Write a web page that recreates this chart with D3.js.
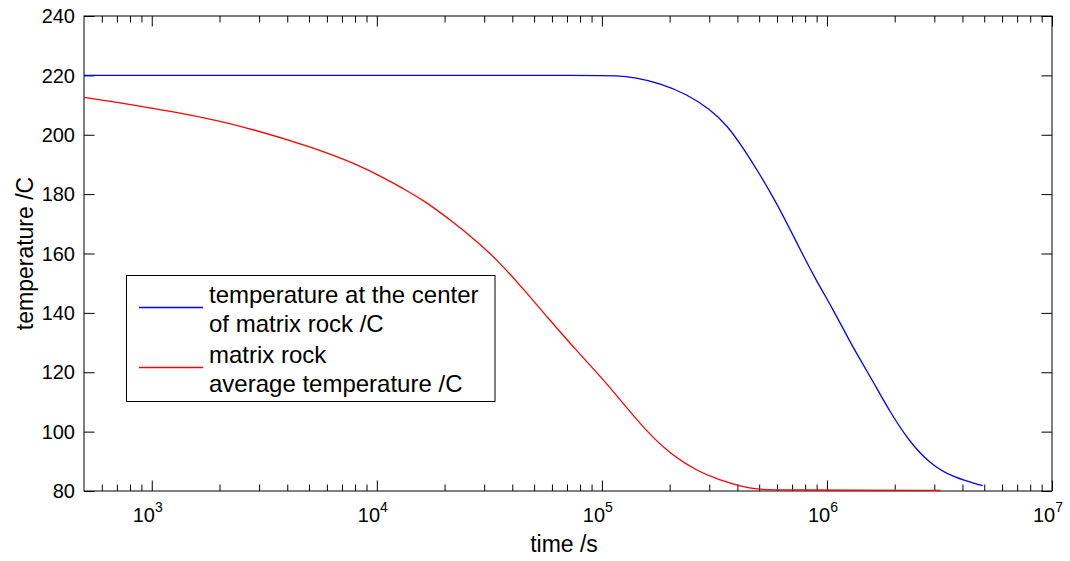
<!DOCTYPE html>
<html>
<head>
<meta charset="utf-8">
<script src="https://cdn.jsdelivr.net/npm/d3@7"></script>
<style>
  html, body { margin: 0; padding: 0; background: #fff; }
  svg { display: block; font-family: "Liberation Sans", Arial, sans-serif; }
</style>
</head>
<body>
<svg id="chart" width="1070" height="561"></svg>
<script>
// ---- data ----
const centerTime = [500, 1e3, 1e4, 1e5, 1.15e5, 1.38e5, 1.82e5, 2.39e5, 3.03e5, 3.6e5, 4.27e5, 5.04e5, 5.97e5, 6.84e5, 7.84e5, 8.98e5, 1.064e6, 1.24e6, 1.35e6, 1.6e6, 1.9e6, 2.33e6, 2.86e6, 3.62e6, 4.92e6];
const centerTemp = [220, 220, 220, 220, 219.9, 219.4, 217.3, 213.6, 208.6, 203.2, 195.3, 186.6, 177.0, 168.3, 159.3, 150.8, 141.2, 131.6, 126.5, 117.0, 106.8, 96.5, 89.3, 84.6, 81.8];

const avgTime = [500, 1350, 2670, 5260, 8190, 11120, 12770, 16200, 22000, 27900, 34200, 44900, 57000, 74800, 99300, 113300, 158700, 201000, 263000, 333000, 423000, 485000, 600000, 3.2e6];
const avgTemp = [212.6, 207.5, 202.5, 195.6, 190.0, 184.9, 182.3, 177.9, 170.4, 164.0, 157.9, 148.0, 138.7, 128.4, 118.3, 113.2, 99.8, 92.6, 86.8, 83.7, 81.4, 80.6, 80.3, 80.2];

const xMajorExp = [3, 4, 5, 6, 7];
const yTicks = [80, 100, 120, 140, 160, 180, 200, 220, 240];
const legendLabels = [["temperature at the center", "of matrix rock /C"], ["matrix rock", "average temperature /C"]];
const seriesColors = ["#0000ff", "#ff0000"];
const xLabel = "time /s";
const yLabel = "temperature /C";

// ---- layout ----
const svg = d3.select("#chart");
const L = 84, T = 16, R = 1052, B = 491;

const x = d3.scaleLog().domain([500, 1e7]).range([L, R]);
const y = d3.scaleLinear().domain([80, 240]).range([B, T]);

// minor ticks
const xMinor = [];
for (let e = 2; e <= 6; e++) for (let m = 2; m <= 9; m++) {
  const v = m * Math.pow(10, e);
  if (v > 500 && v < 1e7) xMinor.push(v);
}
const xMajor = xMajorExp.map(e => Math.pow(10, e));

const axisColor = "#000";
function styleAxis(g) {
  g.select(".domain").remove();
  g.selectAll(".tick line").attr("stroke", axisColor).attr("stroke-width", 1);
  g.selectAll(".tick text").remove();
}

// frame
svg.append("rect").attr("x", L).attr("y", T).attr("width", R - L).attr("height", B - T)
  .attr("fill", "none").attr("stroke", axisColor).attr("stroke-width", 1);

// bottom ticks (inward)
svg.append("g").attr("transform", `translate(0,${B})`)
  .call(d3.axisBottom(x).tickValues(xMinor).tickSize(-6.5).tickFormat(""))
  .call(styleAxis);
svg.append("g").attr("transform", `translate(0,${B})`)
  .call(d3.axisBottom(x).tickValues(xMajor).tickSize(-10.5).tickFormat(""))
  .call(styleAxis);
// top ticks (inward)
svg.append("g").attr("transform", `translate(0,${T})`)
  .call(d3.axisTop(x).tickValues(xMinor).tickSize(-6.5).tickFormat(""))
  .call(styleAxis);
svg.append("g").attr("transform", `translate(0,${T})`)
  .call(d3.axisTop(x).tickValues(xMajor).tickSize(-10.5).tickFormat(""))
  .call(styleAxis);
// left / right ticks (inward)
svg.append("g").attr("transform", `translate(${L},0)`)
  .call(d3.axisLeft(y).tickValues(yTicks).tickSize(-10.5).tickFormat(""))
  .call(styleAxis);
svg.append("g").attr("transform", `translate(${R},0)`)
  .call(d3.axisRight(y).tickValues(yTicks).tickSize(-10.5).tickFormat(""))
  .call(styleAxis);

// curves
const line = d3.line().x(d => x(d[0])).y(d => y(d[1])).curve(d3.curveBasis);
const centerData = centerTime.map((t, i) => [t, centerTemp[i]]);
const avgData = avgTime.map((t, i) => [t, avgTemp[i]]);

svg.append("path").datum(centerData).attr("d", line)
  .attr("fill", "none").attr("stroke", seriesColors[0]).attr("stroke-width", 1.3);
svg.append("path").datum(avgData).attr("d", line)
  .attr("fill", "none").attr("stroke", seriesColors[1]).attr("stroke-width", 1.3);

// y tick labels
svg.append("g").selectAll("text").data(yTicks).join("text")
  .attr("x", L - 9).attr("y", d => y(d)).attr("dy", "0.36em")
  .attr("text-anchor", "end").attr("font-size", 20).attr("fill", "#000")
  .text(d => d);

// x tick labels (10^n)
const xl = svg.append("g").selectAll("text").data(xMajorExp).join("text")
  .attr("x", d => x(Math.pow(10, d)) - 4).attr("y", B + 31)
  .attr("text-anchor", "middle").attr("font-size", 20).attr("fill", "#000");
xl.append("tspan").text("10");
xl.append("tspan").attr("dy", -10).attr("font-size", 14).text(d => d);

// axis labels
svg.append("text").attr("x", 564).attr("y", 552).attr("text-anchor", "middle")
  .attr("font-size", 23).attr("fill", "#000").text(xLabel);
svg.append("text").attr("transform", `translate(33,${(T + B) / 2}) rotate(-90)`)
  .attr("text-anchor", "middle").attr("font-size", 23).attr("fill", "#000").text(yLabel);

// legend
const lg = svg.append("g");
lg.append("rect").attr("x", 126.5).attr("y", 275.5).attr("width", 368.5).attr("height", 126)
  .attr("fill", "#fff").attr("stroke", axisColor).attr("stroke-width", 1);
const entryTop = [303.3, 363.3];
const lineY = [307.5, 367.5];
legendLabels.forEach((lines, i) => {
  lg.append("line").attr("x1", 139).attr("x2", 203).attr("y1", lineY[i]).attr("y2", lineY[i])
    .attr("stroke", seriesColors[i]).attr("stroke-width", 1.3);
  lines.forEach((s, j) => {
    lg.append("text").attr("x", 209).attr("y", entryTop[i] + j * 28.3)
      .attr("font-size", 24).attr("fill", "#000").text(s);
  });
});
</script>
</body>
</html>
